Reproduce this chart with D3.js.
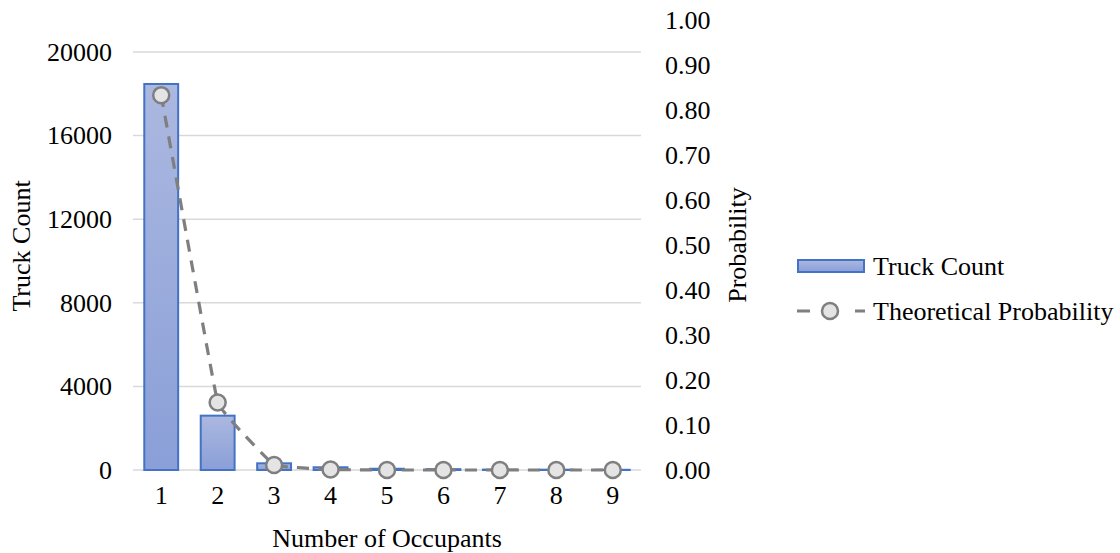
<!DOCTYPE html>
<html>
<head>
<meta charset="utf-8">
<script src="https://cdn.jsdelivr.net/npm/d3@7"></script>
<style>
  html, body { margin: 0; padding: 0; background: #fff; }
  svg { display: block; }
  svg text { font-family: "Times New Roman", Times, "Liberation Serif", "DejaVu Serif", "Noto Serif", serif !important; fill: #000; }
</style>
</head>
<body>
<svg id="chart" width="1120" height="553"></svg>
<script>
// Occupancy categories and observed counts
const occupants = [1, 2, 3, 4, 5, 6, 7, 8, 9];
const truckCount = [18470, 2600, 320, 130, 60, 40, 20, 15, 10];
const theoreticalProbability = [0.833, 0.150, 0.011, 0.001, 0.0, 0.0, 0.0, 0.0, 0.0];
const countTicks = [0, 4000, 8000, 12000, 16000, 20000];
const probTicks = [0, 0.1, 0.2, 0.3, 0.4, 0.5, 0.6, 0.7, 0.8, 0.9, 1.0];

const svg = d3.select("#chart");
const plot = { left: 133, right: 641, bottom: 470, top: 52 };

const x = d3.scaleBand().domain(occupants).range([plot.left, plot.right]).paddingInner(0.4).paddingOuter(0.2);
const yCount = d3.scaleLinear().domain([0, 20000]).range([plot.bottom, plot.top]);
const yProb = d3.scaleLinear().domain([0, 1]).range([plot.bottom, 20]);

// bar gradient
const defs = svg.append("defs");
const grad = defs.append("linearGradient").attr("id", "barGrad")
  .attr("x1", 0).attr("y1", 0).attr("x2", 0).attr("y2", 1);
grad.append("stop").attr("offset", "0%").attr("stop-color", "#abb8e0");
grad.append("stop").attr("offset", "100%").attr("stop-color", "#8a9fd8");

// gridlines
svg.append("g").selectAll("line").data(countTicks).join("line")
  .attr("x1", plot.left).attr("x2", plot.right)
  .attr("y1", d => yCount(d)).attr("y2", d => yCount(d))
  .attr("stroke", "#d9d9d9").attr("stroke-width", 1.5);

function styleAxis(g) {
  g.select(".domain").remove();
  g.attr("font-family", null);
  g.selectAll("text").attr("font-size", 26).attr("fill", "#000");
}

// left axis
svg.append("g").attr("transform", `translate(${plot.left - 21},0)`)
  .call(d3.axisLeft(yCount).tickValues(countTicks).tickFormat(d3.format("d")).tickSize(0).tickPadding(0))
  .call(styleAxis);

// right axis
svg.append("g").attr("transform", `translate(665,0)`)
  .call(d3.axisRight(yProb).tickValues(probTicks).tickFormat(d3.format(".2f")).tickSize(0).tickPadding(0))
  .call(styleAxis);

// bottom axis
svg.append("g").attr("transform", `translate(0,${plot.bottom})`)
  .call(d3.axisBottom(x).tickSize(0).tickPadding(16))
  .call(styleAxis);

// bars
svg.append("g").selectAll("rect").data(occupants).join("rect")
  .attr("x", d => x(d))
  .attr("width", x.bandwidth())
  .attr("y", (d, i) => yCount(truckCount[i]))
  .attr("height", (d, i) => yCount(0) - yCount(truckCount[i]))
  .attr("fill", "url(#barGrad)")
  .attr("stroke", "#4472c4").attr("stroke-width", 2);

// theoretical probability line (lightly smoothed, dashed) with circle markers
const pts = occupants.map((d, i) => [x(d) + x.bandwidth() / 2, yProb(theoreticalProbability[i])]);
svg.append("path")
  .attr("d", d3.line().curve(d3.curveCardinal.tension(0.85))(pts))
  .attr("fill", "none").attr("stroke", "#7f7f7f").attr("stroke-width", 3.2)
  .attr("stroke-dasharray", "12,9");
svg.append("g").selectAll("circle").data(pts).join("circle")
  .attr("cx", d => d[0]).attr("cy", d => d[1]).attr("r", 8)
  .attr("fill", "#e4e4e4").attr("stroke", "#7f7f7f").attr("stroke-width", 2.5);

// axis titles
svg.append("text").attr("transform", "translate(30,246) rotate(-90)")
  .attr("text-anchor", "middle").attr("font-size", 26).text("Truck Count");
svg.append("text").attr("transform", "translate(746,245) rotate(-90)")
  .attr("text-anchor", "middle").attr("font-size", 26).text("Probability");
svg.append("text").attr("x", 387).attr("y", 547)
  .attr("text-anchor", "middle").attr("font-size", 26).text("Number of Occupants");

// legend
const lg = svg.append("g");
lg.append("rect").attr("x", 798).attr("y", 260).attr("width", 66).attr("height", 12)
  .attr("fill", "url(#barGrad)").attr("stroke", "#4472c4").attr("stroke-width", 2);
lg.append("text").attr("x", 873).attr("y", 275).attr("font-size", 26).text("Truck Count");
lg.append("line").attr("x1", 797).attr("x2", 865).attr("y1", 311).attr("y2", 311)
  .attr("stroke", "#7f7f7f").attr("stroke-width", 3.2).attr("stroke-dasharray", "13,16");
lg.append("circle").attr("cx", 830).attr("cy", 311).attr("r", 8)
  .attr("fill", "#e4e4e4").attr("stroke", "#7f7f7f").attr("stroke-width", 2.5);
lg.append("text").attr("x", 873).attr("y", 320).attr("font-size", 26).text("Theoretical Probability");
</script>
</body>
</html>
